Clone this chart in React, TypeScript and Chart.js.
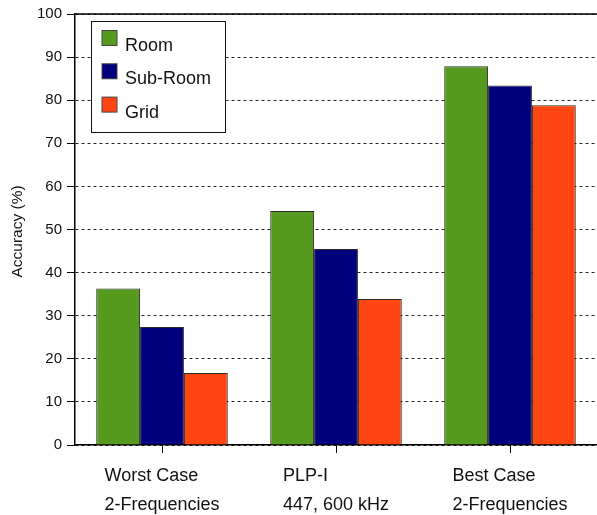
import React, { useEffect, useRef } from "react";
import { Chart, registerables } from "chart.js";

Chart.register(...registerables);

const categories: string[][] = [
  ["Worst Case", "2-Frequencies"],
  ["PLP-I", "447, 600 kHz"],
  ["Best Case", "2-Frequencies"],
];
const seriesNames = ["Room", "Sub-Room", "Grid"];
const roomValues = [36.3, 54.3, 87.9];
const subRoomValues = [27.4, 45.5, 83.4];
const gridValues = [16.7, 33.9, 78.8];
const seriesColors = ["#569B1F", "#00007D", "#FF4512"];
const yTitle = "Accuracy (%)";

const FONT = '"Liberation Sans", Arial, Helvetica, sans-serif';
const TEXT = "#111";

const customPlugin = {
  id: "customDecor",
  afterDatasetsDraw(chart: any) {
    const ctx = chart.ctx;
    const area = chart.chartArea;
    ctx.save();
    // solid top border
    ctx.strokeStyle = "#000";
    ctx.lineWidth = 1.5;
    ctx.beginPath();
    ctx.moveTo(area.left, area.top);
    ctx.lineTo(area.right, area.top);
    ctx.stroke();

    // legend
    const lx = 91.5, ly = 21.5, lw = 134, lh = 111;
    ctx.fillStyle = "#fff";
    ctx.fillRect(lx, ly, lw, lh);
    ctx.strokeStyle = "#111";
    ctx.lineWidth = 1;
    ctx.strokeRect(lx, ly, lw, lh);
    ctx.font = `18px ${FONT}`;
    ctx.textBaseline = "alphabetic";
    ctx.textAlign = "left";
    chart.data.datasets.forEach((ds: any, i: number) => {
      const sy = 30.5 + i * 33.3;
      ctx.fillStyle = ds.backgroundColor;
      ctx.fillRect(102, sy, 15, 15);
      ctx.strokeStyle = "#444";
      ctx.strokeRect(102, sy, 15, 15);
      ctx.fillStyle = TEXT;
      ctx.fillText(ds.label, 125, 51 + i * 33.3);
    });

    // x labels (block centered, lines left-aligned)
    const xs = chart.scales.x;
    ctx.font = `18px ${FONT}`;
    ctx.fillStyle = TEXT;
    ctx.textBaseline = "middle";
    chart.data.labels.forEach((lab: string[], i: number) => {
      const cx = xs.getPixelForTick(i);
      const w = Math.max(...lab.map((l) => ctx.measureText(l).width));
      lab.forEach((line, j) => {
        ctx.fillText(line, cx - w / 2, 476 + j * 29.5);
      });
    });

    // y title
    ctx.translate(18, (area.top + area.bottom) / 2 + 2);
    ctx.rotate(-Math.PI / 2);
    ctx.font = `15.5px ${FONT}`;
    ctx.textAlign = "center";
    ctx.textBaseline = "middle";
    ctx.fillText(yTitle, 0, 0);
    ctx.restore();
  },
};

export default function App() {
  const ref = useRef<HTMLCanvasElement>(null);
  useEffect(() => {
    if (!ref.current) return;
    const values = [roomValues, subRoomValues, gridValues];
    const chart = new Chart(ref.current, {
      type: "bar",
      data: {
        labels: categories as any,
        datasets: seriesNames.map((name, i) => ({
          label: name,
          data: values[i],
          backgroundColor: seriesColors[i],
          borderColor: "#2a2a2a",
          borderWidth: 1,
          barPercentage: 1,
          categoryPercentage: 0.756,
        })),
      },
      options: {
        animation: false,
        responsive: false,
        layout: { padding: { top: 13, right: 0, left: 0, bottom: 0 } },
        plugins: { legend: { display: false }, tooltip: { enabled: false } },
        scales: {
          x: {
            afterFit: (s: any) => {
              s.height = 70;
            },
            grid: {
              display: true,
              drawOnChartArea: false,
              drawTicks: true,
              tickLength: 8,
              offset: false,
              color: "#000",
            },
            border: { display: true, color: "#000", width: 1.5 },
            ticks: { display: false },
          },
          y: {
            min: 0,
            max: 100,
            afterFit: (s: any) => {
              s.width = 75;
            },
            ticks: {
              stepSize: 10,
              padding: 5,
              color: TEXT,
              font: { family: FONT, size: 15 },
            },
            grid: {
              color: "#222",
              tickLength: 8,
              tickColor: "#000",
              tickBorderDash: [],
            },
            border: { display: true, color: "#000", width: 1.5, dash: [3, 3] },
          },
        },
      },
      plugins: [customPlugin],
    });
    return () => chart.destroy();
  }, []);
  return (
    <div style={{ position: "absolute", left: 0, top: 0, width: 597, height: 515, background: "#fff" }}>
      <canvas ref={ref} width={597} height={515} style={{ display: "block" }} />
    </div>
  );
}
